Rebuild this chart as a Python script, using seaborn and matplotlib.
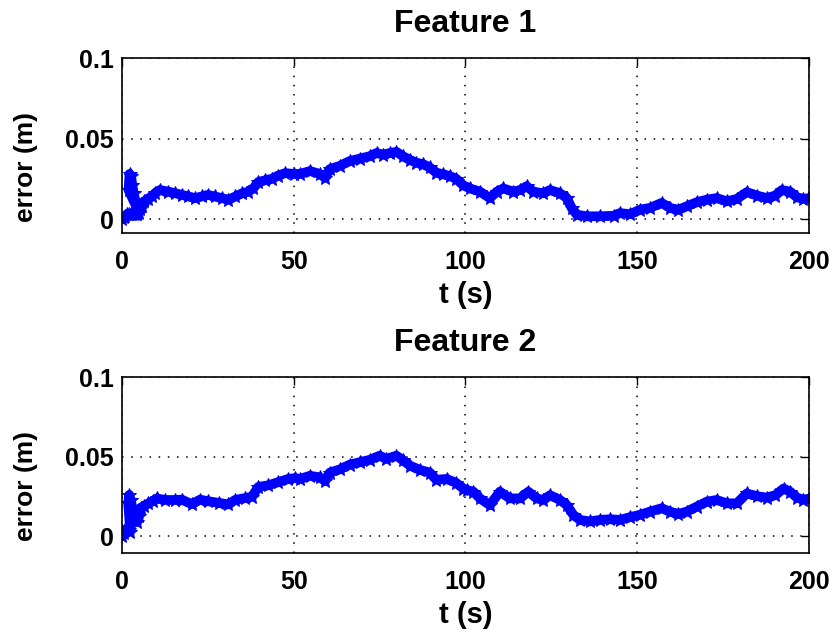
import matplotlib
matplotlib.use('Agg')
import matplotlib.pyplot as plt
import seaborn as sns
import pandas as pd

# Feature 1 error (the first few points revisit the start spike)
t1 = [0, 0.5, 1, 1.5, 2, 2.5, 3, 3.5, 4, 4.5, 5,
      1.9, 2.2, 2.6, 3.0, 3.4, 3.8, 4.3, 4.8, 5.3, 5.8,
      6.5, 7.7, 8.7, 9.6, 11, 13.5, 15.5, 17.5, 19.3, 21.3, 23.2, 25, 27, 29, 31,
      33, 35, 36.8, 38.2, 39.7, 41.6, 43.6, 45.5, 47.5, 50, 51.8, 54.7, 57.6, 59.1,
      60.5, 63.4, 66.3, 69.2, 72.1, 74.1, 76, 78, 79.9, 81.8, 83.8, 85.7, 87.7, 89.6,
      91.5, 93.5, 95.4, 97.3, 99.3, 101.3, 104.2, 107.1, 109.1, 111, 113.9, 115.9,
      117.8, 119.7, 122.7, 124.6, 127.5, 129.5, 130.9, 132.4, 135.3, 139.2, 143.1,
      145, 147.9, 150.8, 153.7, 157.1, 159.5, 162, 164.4, 167.3, 170.2, 173.1, 176.1,
      179, 181.9, 184.8, 187.7, 190.2, 192.1, 194.5, 196.5, 198.4, 200]
err1 = [0.000, 0.001, 0.002, 0.003, 0.003, 0.003, 0.003, 0.003, 0.003, 0.003, 0.004,
        0.018, 0.028, 0.027, 0.021, 0.016, 0.012, 0.010, 0.008, 0.006, 0.008,
        0.011, 0.0125, 0.014, 0.016, 0.018, 0.017, 0.016, 0.015, 0.014, 0.013, 0.014, 0.015, 0.014, 0.013, 0.012,
        0.014, 0.016, 0.017, 0.019, 0.023, 0.024, 0.025, 0.027, 0.0285, 0.028, 0.028, 0.0298, 0.028, 0.0256,
        0.031, 0.033, 0.036, 0.0375, 0.039, 0.041, 0.040, 0.041, 0.0417, 0.039, 0.0367, 0.035, 0.034, 0.032,
        0.0288, 0.0278, 0.0267, 0.025, 0.021, 0.019, 0.017, 0.013, 0.017, 0.019, 0.017, 0.018,
        0.0204, 0.017, 0.016, 0.018, 0.016, 0.013, 0.0069, 0.0027, 0.0017, 0.0017, 0.002,
        0.0037, 0.0030, 0.0058, 0.0069, 0.010, 0.0069, 0.0058, 0.0079, 0.0104, 0.012, 0.013, 0.011,
        0.0125, 0.0167, 0.0146, 0.013, 0.0146, 0.018, 0.017, 0.0135, 0.0125, 0.013]

# Feature 2 error
t2 = [0, 0.5, 1, 1.5, 2, 2.4,
      1.8, 2.1, 2.5, 3.0, 3.5, 4.0, 4.4, 4.9, 5.5,
      6.5, 7.7, 9, 10.1, 12.5, 15.4, 17.4, 20.3, 22.7, 25.1, 28.1, 31, 32.9, 35.8,
      37.8, 39.7, 42.6, 45.5, 48.4, 50.4, 51.8, 54.7, 57.6, 59.1, 60.5, 63.4, 66.3,
      69.2, 72.1, 75, 76.9, 79.9, 81.8, 83.8, 86.7, 89.6, 91.5, 94.5, 97.3, 99.3,
      100.5, 102.3, 104.2, 107.1, 110, 112.9, 115.9, 118.3, 120.7, 122.7, 124.6,
      127.5, 129.5, 131.4, 133.3, 136.2, 139.2, 142.1, 145, 147.9, 150.8, 153.7,
      157.1, 159.5, 162, 164.4, 167.3, 170.2, 173.1, 176.1, 179, 181.9, 184.8,
      187.7, 190.2, 192.6, 194.5, 196.5, 198.4, 200]
err2 = [0.000, 0.002, 0.004, 0.005, 0.004, 0.003,
        0.021, 0.026, 0.023, 0.018, 0.015, 0.011, 0.009, 0.013, 0.018,
        0.019, 0.0207, 0.022, 0.0238, 0.0228, 0.0228, 0.023, 0.0202, 0.023, 0.022, 0.021, 0.020, 0.0228, 0.024,
        0.0248, 0.031, 0.032, 0.034, 0.036, 0.0365, 0.036, 0.038, 0.037, 0.0347, 0.040, 0.042, 0.045,
        0.0465, 0.048, 0.0506, 0.0486, 0.0506, 0.0477, 0.0444, 0.0417, 0.040, 0.0355, 0.036, 0.0335, 0.030,
        0.029, 0.028, 0.0238, 0.0196, 0.028, 0.0238, 0.0238, 0.028, 0.0238, 0.0228, 0.0258,
        0.0228, 0.0196, 0.0134, 0.0103, 0.0093, 0.0103, 0.0107, 0.0103, 0.012, 0.0135, 0.0155,
        0.0176, 0.0155, 0.014, 0.0155, 0.0186, 0.0217, 0.0228, 0.0207, 0.0207, 0.0269, 0.0252,
        0.0243, 0.0258, 0.030, 0.028, 0.0243, 0.023, 0.0236]

titles = ["Feature 1", "Feature 2"]
xticks = [0, 50, 100, 150, 200]
yticks = [0, 0.05, 0.1]
ytick_labels = ["0", "0.05", "0.1"]

sns.set_style("white")
plt.rcParams['font.family'] = ['Liberation Sans', 'DejaVu Sans']
plt.rcParams['font.weight'] = 'bold'
plt.rcParams['text.color'] = 'black'
plt.rcParams['axes.labelcolor'] = 'black'

fig = plt.figure(figsize=(8.34, 6.36), dpi=100)
axes = [fig.add_axes([0.1463, 0.6336, 0.8237, 0.2752]),
        fig.add_axes([0.1463, 0.1305, 0.8237, 0.2767])]
ylims = [(-0.0087, 0.1), (-0.0105, 0.1)]

for ax, t, err, title, ylim in zip(axes, [t1, t2], [err1, err2], titles, ylims):
    df = pd.DataFrame({"t": t, "err": err})
    sns.lineplot(data=df, x="t", y="err", ax=ax, sort=False, estimator=None,
                 color=(0, 0, 1), lw=7, marker='*', markersize=10,
                 markeredgecolor=(0, 0, 1), markerfacecolor=(0, 0, 1))
    ax.set_xlim(0, 200)
    ax.set_ylim(*ylim)
    ax.set_xticks(xticks)
    ax.set_yticks(yticks)
    ax.set_yticklabels(ytick_labels)
    ax.grid(True, color='black', linestyle=(0, (1, 5)), lw=1.1)
    ax.tick_params(axis='both', direction='in', length=6, width=1, top=True, right=True,
                   labelsize=18, colors='black')
    ax.tick_params(axis='x', pad=12)
    ax.tick_params(axis='y', pad=6)
    for lab in ax.get_xticklabels() + ax.get_yticklabels():
        lab.set_fontweight('bold')
    for sp in ax.spines.values():
        sp.set_color('black')
        sp.set_linewidth(1.2)
    ax.set_title(title, fontsize=23, fontweight='bold', pad=19)
    ax.set_xlabel("t (s)", fontsize=21, fontweight='bold', labelpad=5)
    ax.set_ylabel("error (m)", fontsize=19, fontweight='bold')
    ax.yaxis.set_label_coords(-0.122, 0.38)

fig.savefig("out.png", dpi=100)
